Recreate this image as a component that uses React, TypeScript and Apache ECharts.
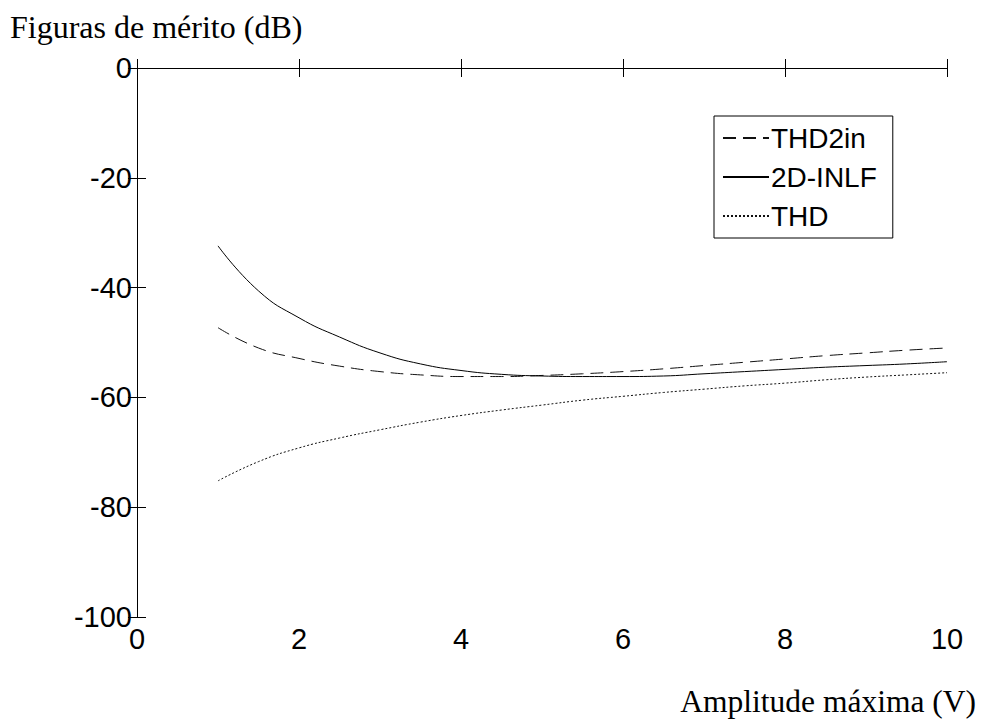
import React, { useEffect, useRef } from "react";
import * as echarts from "echarts";

const xValues = [1, 1.5, 2, 2.5, 3, 3.5, 4, 4.5, 5, 5.5, 6, 6.5, 7, 7.5, 8, 8.5, 9, 9.5, 10];
const thd2in = [-47.3, -51.0, -52.9, -54.3, -55.3, -55.9, -56.2, -56.2, -56.0, -55.7, -55.3, -54.8, -54.2, -53.6, -53.0, -52.4, -51.9, -51.4, -51.0];
const inlf2d = [-32.4, -40.6, -45.5, -49.0, -51.9, -53.9, -55.1, -55.8, -56.1, -56.2, -56.2, -56.1, -55.7, -55.3, -54.9, -54.5, -54.2, -53.9, -53.5];
const thd = [-75.2, -71.7, -69.2, -67.4, -65.9, -64.5, -63.3, -62.3, -61.4, -60.5, -59.8, -59.1, -58.5, -57.9, -57.4, -56.8, -56.3, -55.9, -55.5];

const seriesNames = ["THD2in", "2D-INLF", "THD"];
const yTitle = "Figuras de mérito (dB)";
const xTitle = "Amplitude máxima (V)";

const pairs = (ys: number[]) => xValues.map((x, i) => [x, ys[i]]);

const SANS = "'Liberation Sans', Arial, sans-serif";
const SERIF = "'Liberation Serif', 'Times New Roman', serif";

export default function App() {
  const ref = useRef<HTMLDivElement>(null);
  useEffect(() => {
    if (!ref.current) return;
    const chart = echarts.init(ref.current, null, { renderer: "svg" });
    const tick = { show: true, inside: true, length: 9, lineStyle: { color: "#000" } };
    const line = { show: true, lineStyle: { color: "#000", width: 1 } };
    chart.setOption({
      animation: false,
      backgroundColor: "#fff",
      grid: { left: 137, right: 37, top: 68, bottom: 110 },
      xAxis: [
        {
          type: "value", min: 0, max: 10, interval: 2, position: "bottom",
          axisLine: line, splitLine: { show: false }, axisTick: tick,
          axisLabel: { color: "#000", fontFamily: SANS, fontSize: 29, margin: 7 },
        },
        {
          type: "value", min: 0, max: 10, interval: 2, position: "top",
          axisLine: line, splitLine: { show: false }, axisTick: tick,
          axisLabel: { show: false },
        },
      ],
      yAxis: [
        {
          type: "value", min: -100, max: 0, interval: 20, position: "left",
          axisLine: line, splitLine: { show: false }, axisTick: tick,
          axisLabel: { color: "#000", fontFamily: SANS, fontSize: 29, margin: 5 },
        },
        {
          type: "value", min: -100, max: 0, interval: 20, position: "right",
          axisLine: line, splitLine: { show: false }, axisTick: tick,
          axisLabel: { show: false },
        },
      ],
      legend: {
        orient: "vertical",
        left: 714,
        top: 116,
        data: seriesNames,
        backgroundColor: "#fff",
        borderColor: "#000",
        borderWidth: 1,
        borderRadius: 0,
        padding: [8, 16, 8, 8],
        itemGap: 11,
        itemWidth: 46,
        itemHeight: 14,
        itemStyle: { opacity: 0 },
        textStyle: { color: "#000", fontFamily: SANS, fontSize: 28, padding: [0, 0, 0, -3] },
      },
      series: [
        {
          name: seriesNames[0], type: "line", data: pairs(thd2in), symbol: "none", smooth: true,
          lineStyle: { color: "#111", width: 1, type: [13, 7], opacity: 1 }, itemStyle: { color: "#111" },
        },
        {
          name: seriesNames[1], type: "line", data: pairs(inlf2d), symbol: "none", smooth: true,
          lineStyle: { color: "#000", width: 1, type: "solid", opacity: 1 }, itemStyle: { color: "#000" },
        },
        {
          name: seriesNames[2], type: "line", data: pairs(thd), symbol: "none", smooth: true,
          lineStyle: { color: "#111", width: 1, type: [2, 2], opacity: 1 }, itemStyle: { color: "#111" },
        },
      ],
      graphic: [
        {
          type: "text", left: 10, top: 11,
          style: { text: yTitle, fill: "#000", font: "32px " + SERIF },
        },
        {
          type: "text", right: 8, top: 685,
          style: { text: xTitle, fill: "#000", font: "31.5px " + SERIF },
        },
      ],
    });
    return () => chart.dispose();
  }, []);
  return <div ref={ref} style={{ width: 984, height: 727, position: "absolute", left: 0, top: 0 }} />;
}
